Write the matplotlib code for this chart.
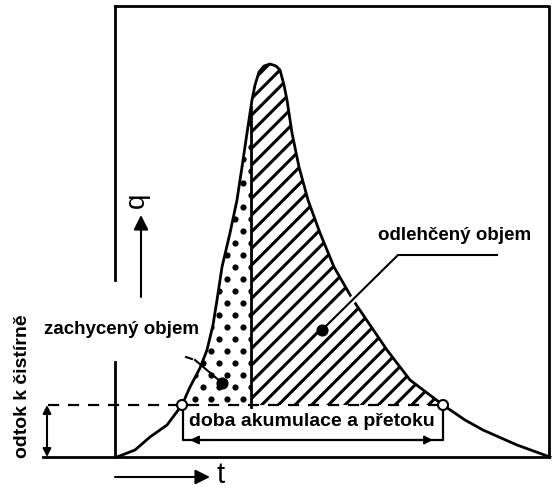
import numpy as np
import matplotlib
matplotlib.use("Agg")
import matplotlib.pyplot as plt
from matplotlib.path import Path
from matplotlib.patches import PathPatch, Circle
import matplotlib.patheffects as pe

# hydrogram odtoku - cas t, prutok q
t = [0, 18, 33, 50, 65, 73, 83, 90, 96, 100, 105, 109, 113, 120, 125, 130, 135, 138,
     142, 147, 153, 159, 163, 167, 170, 175, 182, 191, 203, 217, 236, 253, 270, 293,
     326, 348, 366, 400, 433]
q = [0, 7, 20, 32, 52, 70, 89, 107, 132, 157, 190, 207, 224, 257, 290, 324, 357, 372,
     385, 391, 393, 391, 387, 372, 357, 324, 290, 257, 224, 190, 157, 132, 107, 77,
     52, 37, 27, 12, 0]

q_odtok = 52          # odtok k cistirne
t_deleni = 134        # hranice zachyceny / odlehceny objem
t_start, t_konec = 65, 326

labels = {
    "osa_y": "odtok k čistírně",
    "zachyceny": "zachycený objem",
    "odlehceny": "odlehčený objem",
    "doba": "doba akumulace a přetoku",
}

plt.rcParams["font.family"] = ["Liberation Sans", "DejaVu Sans"]
plt.rcParams["font.weight"] = "bold"
plt.rcParams["hatch.linewidth"] = 2.2

fig = plt.figure(figsize=(5.55, 4.91), dpi=100)
ax = fig.add_axes([0, 0, 1, 1])
ax.set_xlim(-117, 438)
ax.set_ylim(-34, 457)
ax.axis("off")

t = np.array(t, dtype=float)
q = np.array(q, dtype=float)
lw = 2.0

# ramecek
ax.plot([-2, -2], [451, 177], color="k", lw=lw)
ax.plot([-2, -2], [95, 0], color="k", lw=lw)
ax.plot([-2, 432, 432], [451, 451, 0], color="k", lw=lw)
ax.plot([-74, 432], [0, 0], color="k", lw=lw)

# plochy
q_div = np.interp(t_deleni, t[t < 150], q[t < 150])
left = (t < t_deleni) & (q >= q_odtok)
zl = list(zip(t[left], q[left])) + [(t_deleni, q_div), (t_deleni, q_odtok)]
zr = [(t_deleni, q_odtok), (t_deleni, q_div)]
zr += [(a, b) for a, b in zip(t, q) if a > t_deleni and b >= q_odtok - 0.1]

poly_dots = PathPatch(Path(zl + [zl[0]]), facecolor="none", edgecolor="none")
ax.add_patch(poly_dots)
gx, gy = np.meshgrid(np.arange(62, 140, 16.0), np.arange(58, 340, 12.0))
gx = gx + (np.arange(gx.shape[0])[:, None] % 2) * 8
dots = ax.scatter(gx.ravel(), gy.ravel(), s=20, color="k", lw=0, zorder=2)
dots.set_clip_path(poly_dots)

hatch = PathPatch(Path(zr + [zr[0]]), facecolor="none", edgecolor="k", hatch="//", lw=0, zorder=2)
ax.add_patch(hatch)

# cary
ax.plot(t, q, color="k", lw=lw, zorder=4)
ax.plot([t_deleni, t_deleni], [q_odtok - 2, q_div], color="k", lw=lw, zorder=4)
ax.plot([-69, t_konec], [q_odtok, q_odtok], color="k", lw=1.6, ls=(0, (5, 4)), zorder=3)
for tt in (t_start, t_konec):
    ax.add_patch(Circle((tt, q_odtok), 5, facecolor="white", edgecolor="k", lw=1.5, zorder=6))

# odtok k cistirne - sipka
ax.annotate("", xy=(-70, q_odtok), xytext=(-70, 0),
            arrowprops=dict(arrowstyle="<|-|>", color="k", lw=1.5, mutation_scale=12, shrinkA=0, shrinkB=0))
ax.text(-94, 71, labels["osa_y"], rotation=90, ha="center", va="center", fontsize=14)

# doba akumulace
ax.plot([t_start + 1, t_start + 1, t_konec, t_konec], [q_odtok - 4, 17, 17, q_odtok - 4], color="k", lw=1.6)
ax.annotate("", xy=(t_start + 8, 17), xytext=(t_start + 30, 17),
            arrowprops=dict(arrowstyle="-|>", color="k", lw=1.5, mutation_scale=12, shrinkA=0, shrinkB=0))
ax.annotate("", xy=(t_konec - 10, 17), xytext=(t_konec - 30, 17),
            arrowprops=dict(arrowstyle="-|>", color="k", lw=1.5, mutation_scale=12, shrinkA=0, shrinkB=0))
ax.text(195, 36, labels["doba"], ha="center", va="center", fontsize=14, zorder=7)

# popisky objemu
ax.text(4, 128, labels["zachyceny"], ha="center", va="center", fontsize=13.5)
ax.plot([69, 75], [100, 98], color="k", lw=1.5)
ax.plot([78, 104], [97, 75], color="k", lw=1.5, zorder=5)
ax.scatter([105], [74], s=60, color="k", zorder=6)

ax.text(338, 222, labels["odlehceny"], ha="center", va="center", fontsize=13.5)
ax.plot([380, 281, 208], [202, 202, 130], color="k", lw=1.5, zorder=5,
        path_effects=[pe.Stroke(linewidth=5, foreground="white"), pe.Normal()])
ax.scatter([205], [127], s=60, color="k", zorder=6)

# osy q a t
ax.annotate("", xy=(24, 242), xytext=(24, 160),
            arrowprops=dict(arrowstyle="-|>", color="k", lw=1.5, mutation_scale=22, shrinkA=0, shrinkB=0))
ax.text(20, 257, "q", rotation=90, ha="center", va="center", fontsize=20, fontweight="normal")
ax.annotate("", xy=(93, -20), xytext=(-2, -20),
            arrowprops=dict(arrowstyle="-|>", color="k", lw=1.5, mutation_scale=22, shrinkA=0, shrinkB=0))
ax.text(104, -18, "t", ha="center", va="center", fontsize=21, fontweight="normal")

fig.savefig("out.png", dpi=100)
